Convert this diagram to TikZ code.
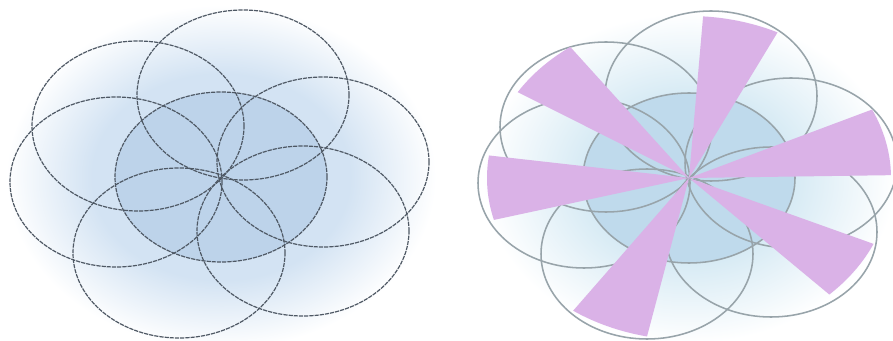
\documentclass[tikz,border=0pt]{standalone}
\usetikzlibrary{calc}

\definecolor{glowblue}{HTML}{D3E3F3}
\definecolor{glowcyan}{HTML}{D6EAF4}
\definecolor{coreblue}{HTML}{BDD3EA}
\definecolor{corecyan}{HTML}{BFDAEC}
\definecolor{ringgray}{HTML}{4E5864}
\definecolor{ringlight}{HTML}{98A4AA}
\definecolor{petal}{HTML}{DAB2E7}

\pgfdeclareradialshading{glowleft}{\pgfpoint{0bp}{0bp}}{color(0bp)=(glowblue);color(15bp)=(glowblue);color(25bp)=(white);color(50bp)=(white)}
\pgfdeclareradialshading{glowright}{\pgfpoint{0bp}{0bp}}{color(0bp)=(glowcyan);color(12bp)=(glowcyan);color(24bp)=(white);color(50bp)=(white)}

\begin{document}
\begin{tikzpicture}[x=0.25mm,y=0.25mm,line join=round,
  ring/.style={draw=ringgray,line width=0.85pt,dash pattern=on 3pt off 0.7pt},
  ringlt/.style={draw=ringlight,line width=1.1pt},
  petalfill/.style={fill=petal}]
  \useasboundingbox (0,0) rectangle (893,340);
  \coordinate (lc) at (221,163);
  \coordinate (rc) at (689,162);

  % left flower
  \shade[shading=glowleft] (lc) ellipse[x radius=215,y radius=172];
  \fill[coreblue] (lc) ellipse[x radius=106,y radius=85];
  \draw[ring] (lc) ellipse[x radius=106,y radius=85];
  \foreach \dx/\dy in {22/82,-83/51,-105/-5,-42/-76,82/-54,102/15}
    \draw[ring] ($(lc)+(\dx,\dy)$) ellipse[x radius=106,y radius=85];

  % right flower
  \shade[shading=glowright] (rc) ellipse[x radius=215,y radius=172];
  \fill[corecyan] (rc) ellipse[x radius=106,y radius=85];
  \draw[ringlt] (rc) ellipse[x radius=106,y radius=85];
  \foreach \dx/\dy in {22/82,-83/51,-105/-5,-42/-76,82/-54,102/15}
    \draw[ringlt] ($(rc)+(\dx,\dy)$) ellipse[x radius=106,y radius=85];
  \foreach \a/\b in {126/148,64/86,1/25,-46/-24,-125/-102,172/195}
    \fill[petalfill] (rc) -- ($(rc)+(\a:202 and 162)$)
      arc[start angle=\a,end angle=\b,x radius=202,y radius=162] -- cycle;
\end{tikzpicture}
\end{document}
